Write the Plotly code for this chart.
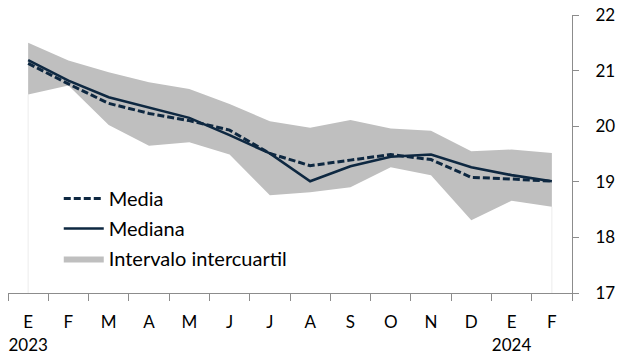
import plotly.graph_objects as go

meses = ["E", "F", "M", "A", "M", "J", "J", "A", "S", "O", "N", "D", "E", "F"]
etiquetas = ["E<br>2023", "F", "M", "A", "M", "J", "J", "A", "S", "O", "N", "D", "E<br>2024", "F"]
q3 = [21.50, 21.18, 20.97, 20.79, 20.67, 20.40, 20.09, 19.97, 20.11, 19.96, 19.92, 19.55, 19.58, 19.52]
q1 = [20.57, 20.73, 20.02, 19.65, 19.71, 19.49, 18.76, 18.81, 18.90, 19.26, 19.12, 18.31, 18.66, 18.55]
mediana = [21.19, 20.82, 20.52, 20.33, 20.15, 19.84, 19.51, 19.01, 19.28, 19.45, 19.49, 19.26, 19.12, 19.01]
media = [21.13, 20.76, 20.41, 20.23, 20.10, 19.93, 19.51, 19.29, 19.39, 19.49, 19.40, 19.08, 19.05, 19.01]

x = list(range(len(meses)))
NAVY = "#0E2841"
GRAY = "#BFBFBF"
FONT = "Lato"

fig = go.Figure()

# faint edge lines of the band area
for i in (0, len(x) - 1):
    fig.add_trace(go.Scatter(x=[x[i], x[i]], y=[17, q1[i]], mode="lines",
                             line=dict(color="#ECECEC", width=1),
                             showlegend=False, hoverinfo="skip"))

fig.add_trace(go.Scatter(x=x, y=q1, mode="lines", line=dict(width=0, color=GRAY),
                         showlegend=False, hoverinfo="skip"))
fig.add_trace(go.Scatter(x=x, y=q3, mode="lines", line=dict(width=0, color=GRAY),
                         fill="tonexty", fillcolor=GRAY, name="Intervalo intercuartil",
                         legendrank=3, legendgroup="c"))
fig.add_trace(go.Scatter(x=x, y=mediana, mode="lines", line=dict(color=NAVY, width=2.6),
                         name="Mediana", legendrank=2, legendgroup="b"))
fig.add_trace(go.Scatter(x=x, y=media, mode="lines",
                         line=dict(color=NAVY, width=3, dash="7px,3px"),
                         name="Media", legendrank=1, legendgroup="a"))

fig.update_layout(
    width=618, height=354,
    margin=dict(l=8, r=46, t=15, b=61),
    paper_bgcolor="white", plot_bgcolor="white",
    font=dict(family=FONT, size=17, color="black"),
    showlegend=True,
    legend=dict(x=0.09, y=0.41, xanchor="left", yanchor="top",
                bgcolor="rgba(0,0,0,0)", font=dict(size=20, family=FONT),
                tracegroupgap=1, itemwidth=40),
    xaxis=dict(range=[-0.5, len(x) - 0.5], tickmode="array", tickvals=x, ticktext=etiquetas,
               ticks="", showgrid=False, zeroline=False, showline=True, automargin=False,
               linecolor="#8C8C8C", linewidth=1, ticklabelstandoff=14,
               tickfont=dict(size=17, family=FONT),
               minor=dict(tick0=-0.5, dtick=1, ticks="outside", ticklen=7,
                          tickcolor="#8C8C8C", tickwidth=1, showgrid=False)),
    yaxis=dict(range=[17, 22], side="right", dtick=1, ticks="outside", ticklen=6,
               tickcolor="#8C8C8C", showgrid=False, zeroline=False, showline=True,
               automargin=False,
               linecolor="#8C8C8C", linewidth=1, tickprefix="\u00a0\u00a0\u00a0",
               tickfont=dict(size=17, family=FONT)),
)

fig.write_html("out.html", config={"displayModeBar": False},
               post_script="document.body.style.margin='0';document.body.style.overflow='hidden';")
